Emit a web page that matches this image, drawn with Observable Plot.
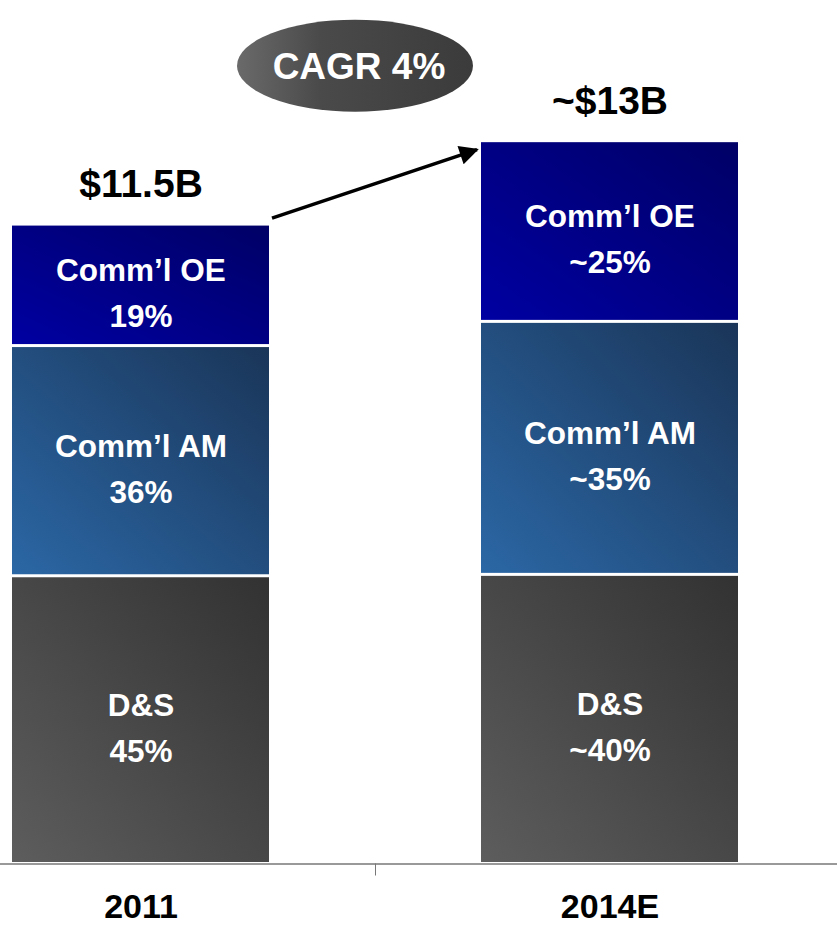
<!DOCTYPE html>
<html>
<head>
<meta charset="utf-8">
<script src="https://cdn.jsdelivr.net/npm/d3@7"></script>
<script src="https://cdn.jsdelivr.net/npm/@observablehq/plot@0.6"></script>
<style>
  html, body { margin: 0; padding: 0; background: #fff; }
  #chart { width: 837px; height: 926px; }
</style>
</head>
<body>
<div id="chart"></div>
<script>
// ---- Data ----
const years = ["2011", "2014E"];
const totals = [11.5, 13];
const totalLabels = ["$11.5B", "~$13B"];
const segments = ["D&S", "Comm\u2019l AM", "Comm\u2019l OE"];
const segmentKeys = ["ds", "am", "oe"];
const shares2011 = [45, 36, 19];
const shares2014 = [40, 35, 25];
const shareLabels2011 = ["45%", "36%", "19%"];
const shareLabels2014 = ["~40%", "~35%", "~25%"];
const cagrLabel = "CAGR 4%";

// ---- Build tables ----
const sharesByYear = [shares2011, shares2014];
const shareLabelsByYear = [shareLabels2011, shareLabels2014];
const rows = [];
years.forEach((yr, i) => {
  segments.forEach((seg, j) => {
    rows.push({
      year: yr,
      segment: seg,
      key: segmentKeys[j],
      value: totals[i] * sharesByYear[i][j] / 100,
      label: seg + "\n" + shareLabelsByYear[i][j]
    });
  });
});
const totalRows = years.map((yr, i) => ({year: yr, total: totals[i], label: totalLabels[i]}));

// ---- Gradient definitions (decoration) ----
function defsMark() {
  const g = d3.create("svg:g");
  const defs = g.append("defs");
  const grads = [
    ["grad-ds", "#5d5d5d", "#323232"],
    ["grad-am", "#2b67a5", "#1a3558"],
    ["grad-oe", "#0000a2", "#000066"]
  ];
  for (const [id, c0, c1] of grads) {
    const lg = defs.append("linearGradient").attr("id", id)
      .attr("x1", 0).attr("y1", 1).attr("x2", 1).attr("y2", 0);
    lg.append("stop").attr("offset", "0%").attr("stop-color", c0);
    lg.append("stop").attr("offset", "100%").attr("stop-color", c1);
  }
  const eg = defs.append("linearGradient").attr("id", "grad-cagr")
    .attr("x1", 0).attr("y1", 0).attr("x2", 1).attr("y2", 0);
  eg.append("stop").attr("offset", "0%").attr("stop-color", "#6a6a6a");
  eg.append("stop").attr("offset", "35%").attr("stop-color", "#4a4a4a");
  eg.append("stop").attr("offset", "100%").attr("stop-color", "#3b3b3b");
  const mk = defs.append("marker").attr("id", "arrowhead")
    .attr("viewBox", "0 0 10 10").attr("refX", 9).attr("refY", 5)
    .attr("markerWidth", 6).attr("markerHeight", 5.5)
    .attr("markerUnits", "strokeWidth").attr("orient", "auto");
  mk.append("path").attr("d", "M0,0L10,5L0,10Z").attr("fill", "#000");
  return g.node();
}

// Arrow between bar tops
function arrowMark(index, scales) {
  const x = scales.x, y = scales.y, bw = x.bandwidth();
  const x1 = x(years[0]) + bw + 3, y1 = y(totals[0]) - 6;
  const x2 = x(years[1]) - 4, y2 = y(totals[1]) + 9;
  const g = d3.create("svg:g");
  g.append("line")
    .attr("x1", x1).attr("y1", y1).attr("x2", x2).attr("y2", y2)
    .attr("stroke", "#000").attr("stroke-width", 3.5)
    .attr("marker-end", "url(#arrowhead)");
  return g.node();
}

// CAGR ellipse
function cagrMark(index, scales) {
  const x = scales.x, y = scales.y, bw = x.bandwidth();
  const cx = (x(years[0]) + bw + x(years[1])) / 2 - 20;
  const cy = y(totals[1]) - 75;
  const g = d3.create("svg:g");
  g.append("ellipse").attr("cx", cx).attr("cy", cy).attr("rx", 118).attr("ry", 46)
    .attr("fill", "url(#grad-cagr)");
  g.append("text").attr("x", cx + 4).attr("y", cy).attr("dy", "0.35em")
    .attr("text-anchor", "middle").attr("fill", "#fff")
    .attr("font-size", 37).attr("font-weight", "bold")
    .text(cagrLabel);
  return g.node();
}

// Category separator tick
function sepTickMark(index, scales) {
  const x = scales.x, y = scales.y, bw = x.bandwidth();
  const cx = Math.round((x(years[0]) + bw + x(years[1])) / 2) + 0.5;
  const y0 = y(0);
  const g = d3.create("svg:g");
  g.append("line").attr("x1", cx).attr("x2", cx).attr("y1", y0).attr("y2", y0 + 12)
    .attr("stroke", "#777").attr("stroke-width", 1);
  return g.node();
}

const chart = Plot.plot({
  width: 837,
  height: 926,
  marginTop: 0,
  marginBottom: 62.5,
  marginLeft: 0,
  marginRight: 0,
  style: {fontFamily: "'Liberation Sans', Arial, sans-serif", background: "#fff", color: "#000"},
  x: {domain: years, range: [11, 738], paddingInner: 0.453, paddingOuter: 0, axis: null, label: null},
  y: {domain: [0, 15.53], axis: null},
  color: {type: "identity"},
  marks: [
    defsMark,
    Plot.barY(rows, Plot.stackY({
      x: "year", y: "value",
      fill: d => `url(#grad-${d.key})`,
      insetTop: 1.5, insetBottom: 1.5
    })),
    Plot.text(rows, Plot.stackY({
      x: "year", y: "value", z: "key",
      text: "label",
      fill: "#fff", fontSize: 31.5, fontWeight: "bold",
      lineHeight: 1.45, lineAnchor: "middle", dy: 4
    })),
    Plot.text(totalRows, {
      x: "year", y: "total", text: "label",
      fontSize: 39, fontWeight: "bold", fill: "#000",
      lineAnchor: "middle", dy: -40
    }),
    Plot.ruleY([0], {stroke: "#777", strokeWidth: 1.5}),
    sepTickMark,
    arrowMark,
    cagrMark,
    Plot.axisX({tickSize: 0, tickPadding: 30, fontSize: 34, fontWeight: "bold", color: "#000", label: null})
  ]
});

document.getElementById("chart").appendChild(chart);
</script>
</body>
</html>
